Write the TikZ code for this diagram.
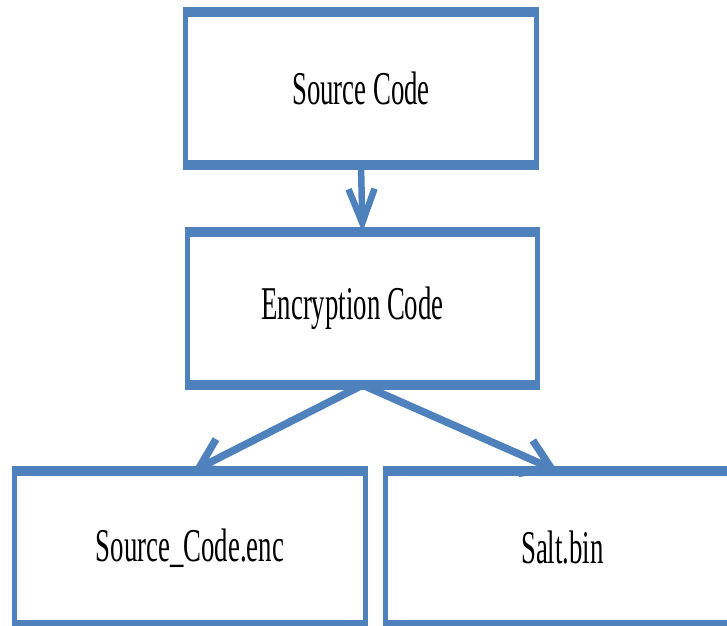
\documentclass[tikz,border=0pt]{standalone}
\usepackage{fontspec}
\setmainfont{Liberation Serif}[FakeStretch=0.57]
\usetikzlibrary{arrows.meta}
\definecolor{boxblue}{RGB}{79,129,189}
\begin{document}
\begin{tikzpicture}[x=1pt,y=-1pt,
  boxnode/.style={draw=boxblue, line width=5pt, inner sep=0pt, outer sep=0pt,
    minimum height=153pt, font=\fontsize{47}{56}\selectfont, text=black},
  hedge/.style={draw=boxblue, line width=10pt},
  flow/.style={draw=boxblue, line width=6.5pt,
    -{Straight Barb[length=34pt,width=26pt,line width=6.5pt]}},
  splitflow/.style={draw=boxblue, line width=7.5pt,
    -{Straight Barb[length=28pt,width=36pt,line width=7.5pt]}}]
\useasboundingbox (0,0) rectangle (727,625);
\node[boxnode, minimum width=351pt] (src) at (361,88.5) {Source Code};
\node[boxnode, minimum width=350pt] (enc) at (362.5,308.5) {Encryption Code\hspace*{20pt}};
\node[boxnode, minimum width=351pt, minimum height=154pt] (out) at (190,548) {Source\_Code.enc};
\node[boxnode, minimum width=354pt, minimum height=154pt] (salt) at (562.5,548) {Salt.bin};
\foreach \n in {src,enc,out,salt}{
  \draw[hedge] ([xshift=-2.5pt]\n.north west) -- ([xshift=2.5pt]\n.north east);
  \draw[hedge] ([xshift=-2.5pt]\n.south west) -- ([xshift=2.5pt]\n.south east);
}
\draw[flow] (src.south) -- (enc.north);
\draw[splitflow] (enc.south) -- ([xshift=3pt]out.north);
\draw[splitflow] (enc.south) -- ([xshift=-5pt]salt.north);
\end{tikzpicture}
\end{document}
